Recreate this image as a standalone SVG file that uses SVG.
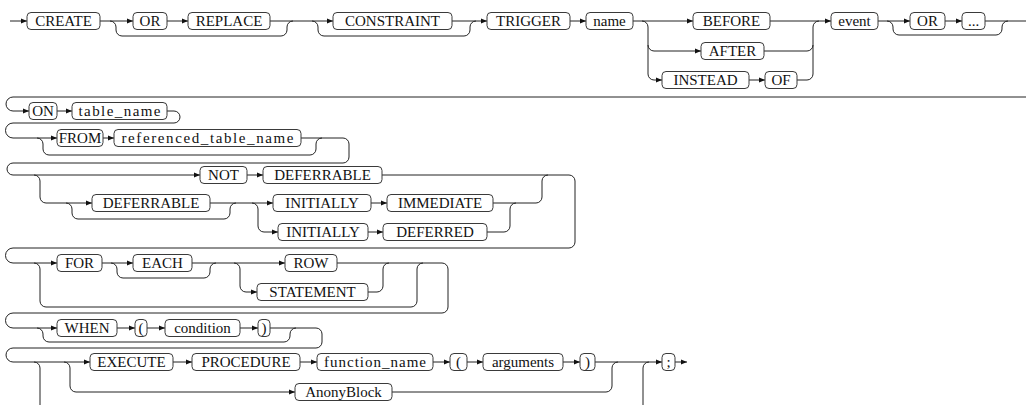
<svg xmlns="http://www.w3.org/2000/svg" width="1026" height="405" viewBox="0 0 1026 405">
<defs>
<marker id="ah" markerUnits="userSpaceOnUse" markerWidth="6" markerHeight="6" refX="6" refY="3" orient="auto">
<path d="M0,0.5 L6,3 L0,5.5 z" fill="#111"/>
</marker>
<style>
.b{fill:#fff;stroke:#3a3a3a;stroke-width:1}
.t{font-size:15px;fill:#111;text-anchor:middle}
.c path{fill:none;stroke:#222;stroke-width:1}
.c path.a{marker-end:url(#ah)}
</style>
</defs>
<rect width="1026" height="405" fill="#fff"/>
<g class="c" id="connectors">
<path class="a" d="M10,21 H27"/>
<path class="a" d="M100,21 H133"/>
<path d="M110,21 A6,6 0 0 1 116,27 V30 A6,6 0 0 0 122,36 H281 A6,6 0 0 0 287,30 V27 A6,6 0 0 1 293,21"/>
<path class="a" d="M167,21 H188"/>
<path class="a" d="M270,21 H333"/>
<path d="M312,21 A6,6 0 0 1 318,27 V30 A6,6 0 0 0 324,36 H464 A6,6 0 0 0 470,30 V27 A6,6 0 0 1 476,21"/>
<path class="a" d="M452,21 H487"/>
<path class="a" d="M570,21 H586"/>
<path class="a" d="M633,21 H693"/>
<path class="a" d="M642,21 A6,6 0 0 1 648,27 V45 A6,6 0 0 0 654,51 H701"/>
<path class="a" d="M648,45 V74 A6,6 0 0 0 654,80 H662"/>
<path class="a" d="M749,80 H765"/>
<path class="a" d="M770,21 H831"/>
<path d="M764,51 H807 A6,6 0 0 0 813,45 V27 A6,6 0 0 1 819,21"/>
<path d="M797,80 H807 A6,6 0 0 0 813,74 V45"/>
<path class="a" d="M878,21 H910"/>
<path d="M887,21 A6,6 0 0 1 893,27 V29 A6,6 0 0 0 899,35 H996 A6,6 0 0 0 1002,29 V27 A6,6 0 0 1 1008,21"/>
<path class="a" d="M945,21 H962"/>
<path d="M985,21 H1026"/>
<path class="a" d="M1026,97 H13 A7,7 0 0 0 13,111 H29"/>
<path class="a" d="M57,111 H72"/>
<path class="a" d="M167,111 H174 A6,6 0 0 1 180,117 A6,6 0 0 1 174,123 H13 A7.5,7.5 0 0 0 13,138 H57"/>
<path d="M37,138 A6,6 0 0 1 43,144 V149 A6,6 0 0 0 49,155 H310 A6,6 0 0 0 316,149 V144 A6,6 0 0 1 322,138"/>
<path class="a" d="M103,138 H114"/>
<path class="a" d="M301,138 H343 A6,6 0 0 1 349,144 V157 A6,6 0 0 1 343,163 H13 A6,6 0 0 0 13,175 H200"/>
<path class="a" d="M34,175 A6,6 0 0 1 40,181 V197 A6,6 0 0 0 46,203 H92"/>
<path d="M66,203 A6,6 0 0 1 72,209 V213 A6,6 0 0 0 78,219 H224 A6,6 0 0 0 230,213 V209 A6,6 0 0 1 236,203"/>
<path class="a" d="M210,203 H273"/>
<path class="a" d="M252,203 A6,6 0 0 1 258,209 V226 A6,6 0 0 0 264,232 H278"/>
<path class="a" d="M247,175 H263"/>
<path class="a" d="M371,203 H387"/>
<path class="a" d="M368,232 H383"/>
<path class="a" d="M382,175 H569 A6,6 0 0 1 575,181 V242 A6,6 0 0 1 569,248 H13 A7.5,7.5 0 0 0 13,263 H57"/>
<path d="M493,203 H536 A6,6 0 0 0 542,197 V181 A6,6 0 0 1 548,175"/>
<path d="M487,232 H504 A6,6 0 0 0 510,226 V209 A6,6 0 0 1 516,203"/>
<path d="M34,263 A6,6 0 0 1 40,269 V301 A6,6 0 0 0 46,307 H411 A6,6 0 0 0 417,301 V269 A6,6 0 0 1 423,263"/>
<path class="a" d="M102,263 H133"/>
<path d="M111,263 A6,6 0 0 1 117,269 V272 A6,6 0 0 0 123,278 H204 A6,6 0 0 0 210,272 V269 A6,6 0 0 1 216,263"/>
<path class="a" d="M192,263 H285"/>
<path class="a" d="M234,263 A6,6 0 0 1 240,269 V286 A6,6 0 0 0 246,292 H257"/>
<path class="a" d="M337,263 H442 A6,6 0 0 1 448,269 V307 A6,6 0 0 1 442,313 H13 A7.5,7.5 0 0 0 13,328 H57"/>
<path d="M368,292 H377 A6,6 0 0 0 383,286 V269 A6,6 0 0 1 389,263"/>
<path d="M37,328 A6,6 0 0 1 43,334 V336 A6,6 0 0 0 49,342 H284 A6,6 0 0 0 290,336 V334 A6,6 0 0 1 296,328"/>
<path class="a" d="M117,328 H135"/>
<path class="a" d="M147,328 H165"/>
<path class="a" d="M240,328 H258"/>
<path class="a" d="M270,328 H316 A6,6 0 0 1 322,334 V342 A6,6 0 0 1 316,348 H13 A7,7 0 0 0 13,362 H90"/>
<path d="M34,362 A6,6 0 0 1 40,368 V410"/>
<path d="M643,410 V368 A6,6 0 0 1 649,362"/>
<path class="a" d="M64,362 A6,6 0 0 1 70,368 V386 A6,6 0 0 0 76,392 H295"/>
<path class="a" d="M173,362 H192"/>
<path class="a" d="M300,362 H317"/>
<path class="a" d="M433,362 H450"/>
<path class="a" d="M467,362 H483"/>
<path class="a" d="M563,362 H580"/>
<path class="a" d="M595,362 H662"/>
<path d="M392,392 H606 A6,6 0 0 0 612,386 V368 A6,6 0 0 1 618,362"/>
<path class="a" d="M675,362 H687"/>
</g>
<g font-family="'Liberation Serif', 'DejaVu Serif', 'Noto Serif', serif">
<g id="n-create"><rect class="b" x="27" y="12.5" width="73" height="17" rx="4"/><text class="t" x="63.5" y="26">CREATE</text></g>
<g id="n-or1"><rect class="b" x="133" y="12.5" width="34" height="17" rx="4"/><text class="t" x="150" y="26">OR</text></g>
<g id="n-replace"><rect class="b" x="188" y="12.5" width="82" height="17" rx="4"/><text class="t" x="229" y="26">REPLACE</text></g>
<g id="n-constraint"><rect class="b" x="333" y="12.5" width="119" height="17" rx="4"/><text class="t" x="392.5" y="26">CONSTRAINT</text></g>
<g id="n-trigger"><rect class="b" x="487" y="12.5" width="83" height="17" rx="4"/><text class="t" x="528.5" y="26">TRIGGER</text></g>
<g id="n-name"><rect class="b" x="586" y="12.5" width="47" height="17" rx="4"/><text class="t" x="609.5" y="26">name</text></g>
<g id="n-before"><rect class="b" x="693" y="12.5" width="77" height="17" rx="4"/><text class="t" x="731.5" y="26">BEFORE</text></g>
<g id="n-after"><rect class="b" x="701" y="42.5" width="63" height="17" rx="4"/><text class="t" x="732.5" y="56">AFTER</text></g>
<g id="n-instead"><rect class="b" x="662" y="71.5" width="87" height="17" rx="4"/><text class="t" x="705.5" y="85">INSTEAD</text></g>
<g id="n-of"><rect class="b" x="765" y="71.5" width="32" height="17" rx="4"/><text class="t" x="781" y="85">OF</text></g>
<g id="n-event"><rect class="b" x="831" y="12.5" width="47" height="17" rx="4"/><text class="t" x="854.5" y="26">event</text></g>
<g id="n-or2"><rect class="b" x="910" y="12.5" width="35" height="17" rx="4"/><text class="t" x="927.5" y="26">OR</text></g>
<g id="n-dots"><rect class="b" x="962" y="12.5" width="23" height="17" rx="4"/><text class="t" x="973.5" y="26">...</text></g>
<g id="n-on"><rect class="b" x="29" y="102.5" width="28" height="17" rx="4"/><text class="t" x="43" y="116">ON</text></g>
<g id="n-table-name"><rect class="b" x="72" y="102.5" width="95" height="17" rx="4"/><text class="t" x="119.5" y="116" textLength="82" lengthAdjust="spacing">table_name</text></g>
<g id="n-from"><rect class="b" x="57" y="129.5" width="46" height="17" rx="4"/><text class="t" x="80" y="143">FROM</text></g>
<g id="n-ref-table"><rect class="b" x="114" y="129.5" width="187" height="17" rx="4"/><text class="t" x="207.5" y="143" textLength="172" lengthAdjust="spacing">referenced_table_name</text></g>
<g id="n-not"><rect class="b" x="200" y="166.5" width="47" height="17" rx="4"/><text class="t" x="223.5" y="180">NOT</text></g>
<g id="n-deferrable1"><rect class="b" x="263" y="166.5" width="119" height="17" rx="4"/><text class="t" x="322.5" y="180">DEFERRABLE</text></g>
<g id="n-deferrable2"><rect class="b" x="92" y="194.5" width="118" height="17" rx="4"/><text class="t" x="151" y="208">DEFERRABLE</text></g>
<g id="n-initially1"><rect class="b" x="273" y="194.5" width="98" height="17" rx="4"/><text class="t" x="322" y="208">INITIALLY</text></g>
<g id="n-immediate"><rect class="b" x="387" y="194.5" width="106" height="17" rx="4"/><text class="t" x="440" y="208">IMMEDIATE</text></g>
<g id="n-initially2"><rect class="b" x="278" y="223.5" width="90" height="17" rx="4"/><text class="t" x="323" y="237">INITIALLY</text></g>
<g id="n-deferred"><rect class="b" x="383" y="223.5" width="104" height="17" rx="4"/><text class="t" x="435" y="237">DEFERRED</text></g>
<g id="n-for"><rect class="b" x="57" y="254.5" width="45" height="17" rx="4"/><text class="t" x="79.5" y="268">FOR</text></g>
<g id="n-each"><rect class="b" x="133" y="254.5" width="59" height="17" rx="4"/><text class="t" x="162.5" y="268">EACH</text></g>
<g id="n-row"><rect class="b" x="285" y="254.5" width="52" height="17" rx="4"/><text class="t" x="311" y="268">ROW</text></g>
<g id="n-statement"><rect class="b" x="257" y="283.5" width="111" height="17" rx="4"/><text class="t" x="312.5" y="297">STATEMENT</text></g>
<g id="n-when"><rect class="b" x="57" y="319.5" width="60" height="17" rx="4"/><text class="t" x="87" y="333">WHEN</text></g>
<g id="n-lparen1"><rect class="b" x="135" y="319.5" width="12" height="17" rx="4"/><text class="t" x="141" y="333">(</text></g>
<g id="n-condition"><rect class="b" x="165" y="319.5" width="75" height="17" rx="4"/><text class="t" x="202.5" y="333">condition</text></g>
<g id="n-rparen1"><rect class="b" x="258" y="319.5" width="12" height="17" rx="4"/><text class="t" x="264" y="333">)</text></g>
<g id="n-execute"><rect class="b" x="90" y="353.5" width="83" height="17" rx="4"/><text class="t" x="131.5" y="367">EXECUTE</text></g>
<g id="n-procedure"><rect class="b" x="192" y="353.5" width="108" height="17" rx="4"/><text class="t" x="246" y="367">PROCEDURE</text></g>
<g id="n-function-name"><rect class="b" x="317" y="353.5" width="116" height="17" rx="4"/><text class="t" x="375" y="367" textLength="102" lengthAdjust="spacing">function_name</text></g>
<g id="n-lparen2"><rect class="b" x="450" y="353.5" width="17" height="17" rx="4"/><text class="t" x="458.5" y="367">(</text></g>
<g id="n-arguments"><rect class="b" x="483" y="353.5" width="80" height="17" rx="4"/><text class="t" x="523" y="367">arguments</text></g>
<g id="n-rparen2"><rect class="b" x="580" y="353.5" width="15" height="17" rx="4"/><text class="t" x="587.5" y="367">)</text></g>
<g id="n-anonyblock"><rect class="b" x="295" y="383.5" width="97" height="17" rx="4"/><text class="t" x="343.5" y="397">AnonyBlock</text></g>
<g id="n-semicolon"><rect class="b" x="662" y="353.5" width="13" height="17" rx="4"/><text class="t" x="668.5" y="367">;</text></g>
</g>
</svg>
